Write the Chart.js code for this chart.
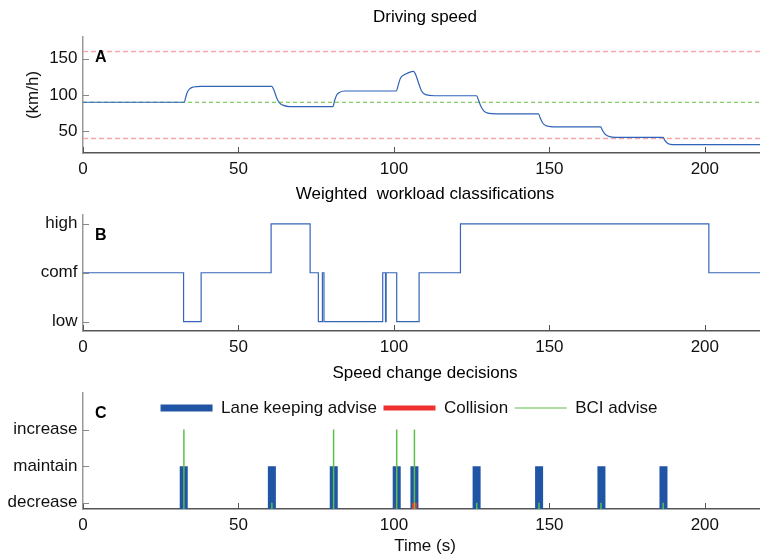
<!DOCTYPE html>
<html>
<head>
<meta charset="utf-8">
<script src="https://cdn.jsdelivr.net/npm/chart.js@4.4.1/dist/chart.umd.min.js"></script>
<style>
  html, body { margin: 0; padding: 0; background: #fff; width: 760px; height: 557px; overflow: hidden; }
  .panel { position: absolute; left: 0; width: 768px; }
  canvas { display: block; }
</style>
</head>
<body>
<div class="panel" style="top:0px;height:180px"><canvas id="cA" width="768" height="180"></canvas></div>
<div class="panel" style="top:180px;height:180px"><canvas id="cB" width="768" height="180"></canvas></div>
<div class="panel" style="top:360px;height:197px"><canvas id="cC" width="768" height="197"></canvas></div>
<script>
// ---------- data ----------
const xMin = 0, xMax = 220;
const xTickValues = [0, 50, 100, 150, 200];

// Panel A: driving speed (km/h)
const speedTime  = [0, 32.6, 33.1, 33.6, 34.3, 35.5, 38,
                    60.7, 61.4, 62.3, 63.2, 64.3, 66.5,
                    80.4, 80.9, 81.6, 82.5, 84,
                    100.8, 101.4, 102.1, 103.2, 104.6, 106.3,
                    107.1, 107.9, 108.9, 110.2, 113,
                    126.6, 127.2, 128, 128.9, 130.2, 133,
                    146.5, 147.1, 147.9, 148.8, 150.2, 153,
                    166.5, 167.1, 167.9, 168.8, 170.2, 173,
                    186.6, 187.2, 188, 188.9, 190.2, 193, 220];
const speedValue = [90, 90, 98, 104, 108.5, 111, 112,
                    112, 107, 96, 89, 86, 84,
                    84, 92, 100, 103.5, 105.5,
                    105.5, 114, 123, 127.5, 130.5, 132.5,
                    127, 117, 105.5, 100.5, 99,
                    99, 93, 84, 78, 75, 74,
                    74, 68, 61, 58, 56.5, 56,
                    56, 51, 46, 43.5, 42, 41.5,
                    41.5, 37, 33.5, 32, 31.5, 31.5, 31.5];
const upperLimit = 160, lowerLimit = 40, targetSpeed = 90;
const speedTicks = [50, 100, 150];

// Panel B: weighted workload classification (1 = low, 2 = comf, 3 = high)
const workloadTime  = [0, 32.35, 38.0, 60.5, 73.05, 75.7, 77.0, 77.5, 96.4, 97.3, 97.5, 100.9, 108.1, 121.4, 201.3, 220];
const workloadLevel = [2, 1, 2, 3, 2, 1, 2, 1, 2, 1, 2, 1, 2, 3, 2, 2];
const workloadLabels = ['low', 'comf', 'high'];

// Panel C: speed change decisions (1 = decrease, 2 = maintain, 3 = increase)
const decisionLabels = ['decrease', 'maintain', 'increase'];
const laneTimes  = [32.4, 60.75, 80.65, 100.9, 106.6, 126.6, 146.7, 166.75, 186.7];
const laneLevels = [2, 2, 2, 2, 2, 2, 2, 2, 2];
const collisionTimes  = [106.6];
const collisionLevels = [1];
const bciTimes  = [32.45, 60.75, 80.6, 100.9, 106.6, 126.65, 146.65, 166.6, 186.6];
const bciLevels = [3, 1, 3, 3, 3, 1, 1, 1, 1];
const levelTicks = [1, 2, 3];

// ---------- helpers ----------
const FONT = "'Liberation Sans', Arial, Helvetica, sans-serif";
Chart.defaults.font.family = FONT;
Chart.defaults.font.size = 17;
Chart.defaults.color = '#111';

const pts = (xs, ys) => xs.map((x, i) => ({x: x, y: ys[i]}));
function stems(times, levels, base) {
  const out = [];
  times.forEach((t, i) => { out.push({x: t, y: base}, {x: t, y: levels[i]}, {x: t, y: null}); });
  return out;
}

const inwardTicks = {
  id: 'inwardTicks',
  afterDraw(chart) {
    const {ctx, chartArea: a, scales} = chart;
    ctx.save();
    ctx.lineWidth = 1;
    ctx.strokeStyle = '#555';
    scales.x.ticks.forEach(t => {
      const px = Math.round(scales.x.getPixelForValue(t.value)) + 0.5;
      ctx.beginPath(); ctx.moveTo(px, a.bottom); ctx.lineTo(px, a.bottom - 6); ctx.stroke();
    });
    ctx.strokeStyle = '#888';
    scales.y.ticks.forEach(t => {
      const py = Math.round(scales.y.getPixelForValue(t.value)) + 0.5;
      ctx.beginPath(); ctx.moveTo(a.left, py); ctx.lineTo(a.left + 6, py); ctx.stroke();
    });
    ctx.restore();
  }
};

const panelLetter = {
  id: 'panelLetter',
  afterDraw(chart, args, opts) {
    const {ctx, chartArea: a} = chart;
    ctx.save();
    ctx.font = 'bold 16px ' + FONT;
    ctx.fillStyle = '#000';
    ctx.textBaseline = 'alphabetic';
    ctx.fillText(opts.text, a.left + 12, a.top + 25);
    ctx.restore();
  }
};

// legend placed inside the axes, laid out in a single row
const legendInAxes = {
  id: 'legendInAxes',
  beforeLayout(chart) {
    if (chart.legend) chart.legend.isHorizontal = () => true;
  },
  afterLayout(chart, args, opts) {
    if (chart.legend) {
      chart.legend.left = chart.chartArea.left + opts.dx;
      chart.legend.right = chart.chartArea.right + opts.dx;
      chart.legend.top = chart.chartArea.top;
    }
  }
};

function xScale(height, extra) {
  return Object.assign({
    type: 'linear', min: xMin, max: xMax,
    afterBuildTicks: s => { s.ticks = xTickValues.map(v => ({value: v})); },
    afterFit: s => { s.height = height; },
    ticks: {padding: 6.5, maxRotation: 0, color: '#111'},
    grid: {display: false, drawTicks: false},
    border: {display: true, color: '#555', width: 1.5}
  }, extra || {});
}
function yScale(min, max, tickValues, cb, extra) {
  return Object.assign({
    min: min, max: max,
    afterBuildTicks: s => { s.ticks = tickValues.map(v => ({value: v})); },
    afterFit: s => { s.width = 83; },
    ticks: {padding: 5.5, color: '#111', callback: cb},
    grid: {display: false, drawTicks: false},
    border: {display: true, color: '#999', width: 1.5}
  }, extra || {});
}
function titleOpts(text, top, bottom) {
  return {display: true, text: text, fullSize: false, color: '#000',
          font: {size: 17, weight: 'normal'}, padding: {top: top, bottom: bottom}};
}
const baseOpts = {
  responsive: false, animation: false, events: [],
  layout: {padding: {left: 0, right: 1, top: 0, bottom: 0}},
  elements: {point: {radius: 0, hoverRadius: 0}}
};

// ---------- Panel A ----------
new Chart(document.getElementById('cA'), {
  type: 'line',
  data: {
    datasets: [
      {label: 'Speed', data: pts(speedTime, speedValue), borderColor: '#2f63b8', borderWidth: 1.2,
       cubicInterpolationMode: 'monotone', fill: false},
      {label: 'Upper', data: pts([xMin, xMax], [upperLimit, upperLimit]), borderColor: '#f6a8a8',
       borderWidth: 1.5, borderDash: [5, 3]},
      {label: 'Lower', data: pts([xMin, xMax], [lowerLimit, lowerLimit]), borderColor: '#f6a8a8',
       borderWidth: 1.5, borderDash: [5, 3]},
      {label: 'Target', data: pts([xMin, xMax], [targetSpeed, targetSpeed]), borderColor: '#62c044',
       borderWidth: 1.2, borderDash: [4, 3]}
    ]
  },
  options: Object.assign({}, baseOpts, {
    scales: {
      x: xScale(27),
      y: yScale(20, 180, speedTicks, v => v, {
        title: {display: true, text: '(km/h)', color: '#111', font: {size: 17}, padding: {top: 23, bottom: 0}}
      })
    },
    plugins: {legend: {display: false}, tooltip: {enabled: false},
              title: titleOpts('Driving speed', 7.3, 9.3), panelLetter: {text: 'A'}}
  }),
  plugins: [inwardTicks, panelLetter]
});

// ---------- Panel B ----------
new Chart(document.getElementById('cB'), {
  type: 'line',
  data: {
    datasets: [
      {label: 'Workload', data: pts(workloadTime, workloadLevel), stepped: true,
       borderColor: '#3566b8', borderWidth: 1.2}
    ]
  },
  options: Object.assign({}, baseOpts, {
    scales: {
      x: xScale(29),
      y: yScale(0.81, 3.18, levelTicks, v => workloadLabels[v - 1])
    },
    plugins: {legend: {display: false}, tooltip: {enabled: false},
              title: titleOpts('Weighted  workload classifications', 4.3, 10.3), panelLetter: {text: 'B'}}
  }),
  plugins: [inwardTicks, panelLetter]
});

// ---------- Panel C ----------
new Chart(document.getElementById('cC'), {
  type: 'line',
  data: {
    datasets: [
      {label: 'Lane keeping advise', data: stems(laneTimes, laneLevels, 0), borderColor: '#2054a4',
       borderWidth: 8, pointBorderWidth: 7, clip: 0, order: 3},
      {label: 'Collision', data: stems(collisionTimes, collisionLevels, 0), borderColor: '#ee3030',
       borderWidth: 5, pointBorderWidth: 5, clip: 0, order: 2},
      {label: 'BCI advise', data: stems(bciTimes, bciLevels, 0), borderColor: '#5cc049',
       borderWidth: 1.5, pointBorderWidth: 1.2, clip: 0, order: 1}
    ]
  },
  options: Object.assign({}, baseOpts, {
    scales: {
      x: xScale(48, {title: {display: true, text: 'Time (s)', color: '#111', font: {size: 17},
                             padding: {top: 0, bottom: 0.3}}}),
      y: yScale(0.83, 4, levelTicks, v => decisionLabels[v - 1])
    },
    plugins: {
      legend: {display: true, position: 'chartArea', align: 'center',
               labels: {usePointStyle: true, pointStyle: 'line', pointStyleWidth: 52, padding: 6.5,
                        color: '#111', font: {size: 17},
                        sort: (a, b) => a.datasetIndex - b.datasetIndex}},
      legendInAxes: {dx: -16},
      tooltip: {enabled: false},
      title: titleOpts('Speed change decisions', 2.8, 9.8),
      panelLetter: {text: 'C'}
    }
  }),
  plugins: [inwardTicks, panelLetter, legendInAxes]
});
</script>
</body>
</html>
